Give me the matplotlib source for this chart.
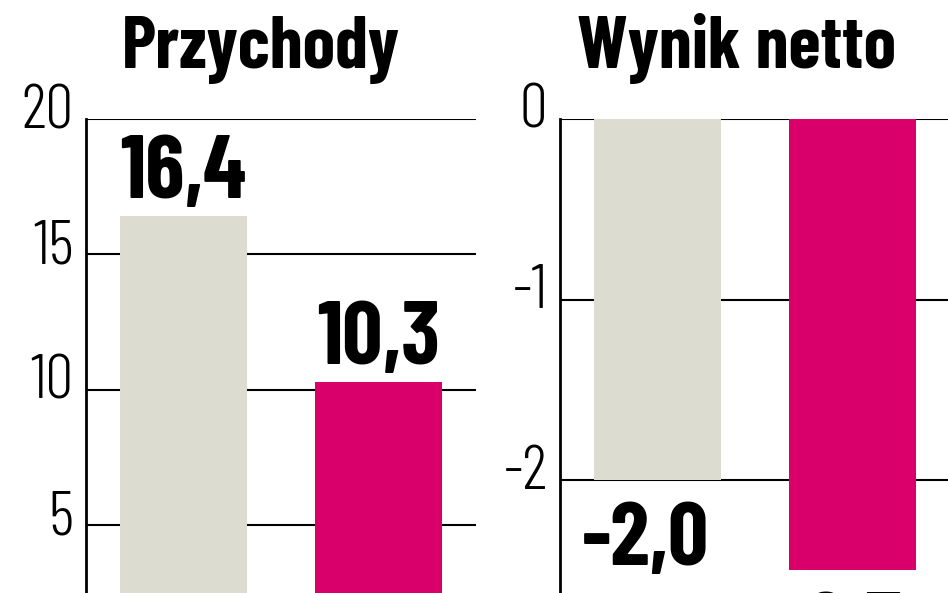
import matplotlib
matplotlib.use("Agg")
import matplotlib.pyplot as plt
from matplotlib.transforms import ScaledTranslation

# Data
titles = ["Przychody", "Wynik netto"]
rev_values = [16.4, 10.3]
net_values = [-2.0, -2.5]
rev_labels = ["16,4", "10,3"]
net_labels = ["-2,0", "-2,5"]
rev_ticks = [5, 10, 15, 20]
net_ticks = [-2, -1, 0]
colors = ["#DCDCD0", "#DA006B"]

W, H = 948, 593
fig = plt.figure(figsize=(W / 100, H / 100), dpi=100)
fig.patch.set_facecolor("white")

FONT = ["Barlow Condensed", "DejaVu Sans"]

def make_axes(x0, ylim, ticks, values, labels, above):
    ax = fig.add_axes([x0 / W, 0, 390 / W, 1 - 119 / H])
    ax.set_xlim(-0.5, 1.5)
    ax.set_ylim(*ylim)
    for y in ticks:
        ax.axhline(y, color="black", lw=1.5, zorder=1)
    ax.bar([0, 1], values, width=0.65, color=colors, zorder=2)
    for s in ["top", "right", "bottom"]:
        ax.spines[s].set_visible(False)
    ax.spines["left"].set_linewidth(2)
    ax.spines["left"].set_zorder(3)
    ax.set_xticks([])
    ax.set_yticks(ticks)
    ax.set_yticklabels([str(t) for t in ticks], family=FONT, fontsize=45,
                       fontweight=300)
    ax.tick_params(axis="y", length=0, pad=9)
    shift = ScaledTranslation(0, -9 / 100, fig.dpi_scale_trans)
    for lbl in ax.get_yticklabels():
        lbl.set_verticalalignment("baseline")
        lbl.set_transform(lbl.get_transform() + shift)
    for i, (v, lab) in enumerate(zip(values, labels)):
        if above:
            ax.annotate(lab, (i, v), xytext=(0, 18), textcoords="offset pixels",
                        ha="center", va="baseline", family=FONT, fontweight=700,
                        fontsize=64, color="black")
        else:
            ax.annotate(lab, (i, v), xytext=(-12, -22), textcoords="offset pixels",
                        ha="center", va="top", family=FONT, fontweight=700,
                        fontsize=64, color="black", annotation_clip=False)
    return ax

ax1 = make_axes(86, (20 - 474 / 27.07, 20), rev_ticks, rev_values, rev_labels, True)
ax2 = make_axes(560, (-474 / 180.5, 0), net_ticks, net_values, net_labels, False)

fig.text(261 / W, 1 - 68 / H, titles[0], ha="center", va="baseline",
         family=FONT, fontweight=700, fontsize=53)
fig.text(737 / W, 1 - 68 / H, titles[1], ha="center", va="baseline",
         family=FONT, fontweight=700, fontsize=53)

fig.savefig("out.png", dpi=100, facecolor="white")
